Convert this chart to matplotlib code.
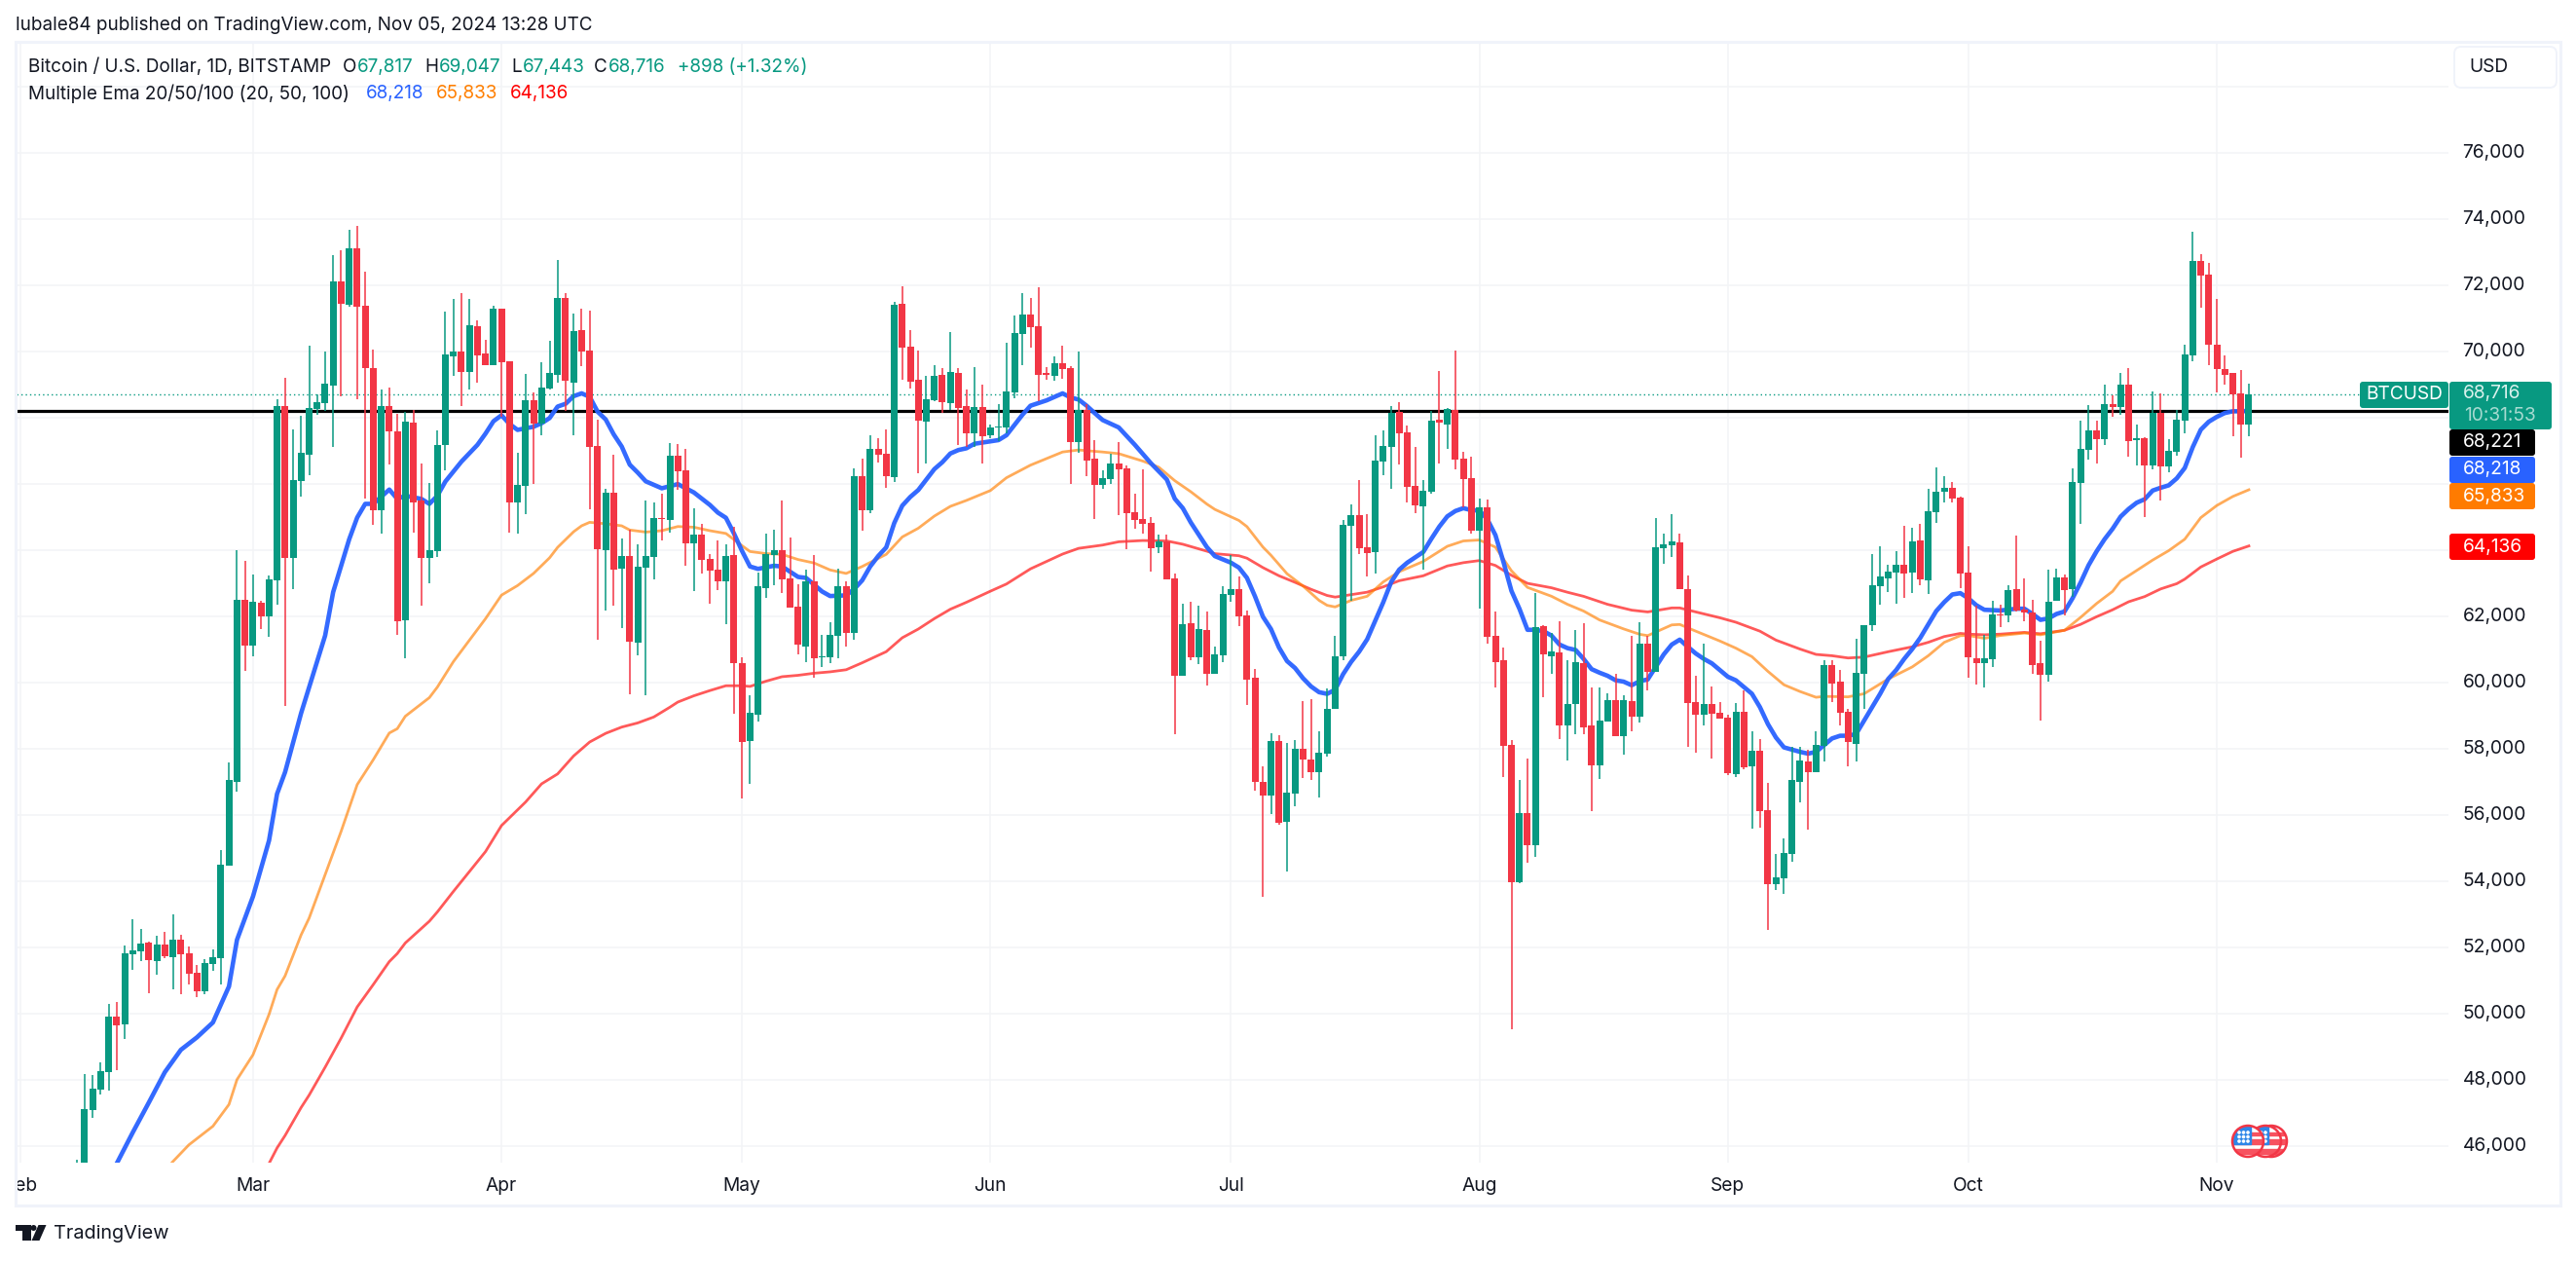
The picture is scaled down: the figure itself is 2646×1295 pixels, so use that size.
import matplotlib
matplotlib.use('Agg')
import matplotlib.pyplot as plt
from matplotlib.patches import Rectangle, Circle, Polygon, FancyBboxPatch
from matplotlib.transforms import ScaledTranslation
import numpy as np
import pandas as pd

plt.rcParams['font.family'] = ['Inter', 'DejaVu Sans']

# daily candles, Feb 8 to Nov 5 2024, one line per month
dates = pd.date_range('2024-02-08', '2024-11-05')

opens = [
    44300,45300,47098,47717,48242,49931,49687,51806,51900,52163,51600,52107,51713,52238,51844,51244,50681,51506,51694,54490,57022,62518,
    61130,62425,62012,63100,68372,63775,66102,66890,68278,68447,68991,72124,71429,73137,71392,69516,65220,68372,67602,61899,67865,65501,63775,63982,67190,69872,70022,69403,70773,69947,69610,
    71296,69711,65448,65952,68535,67821,68892,69301,71622,69070,70656,70036,67160,64010,65742,63453,63831,61217,63485,63799,64986,64923,66865,66424,64219,64482,63747,63421,63064,63862,
    60597,58245,59043,62865,63862,64010,63159,62308,61101,63064,60786,60775,61426,62917,61510,66246,65217,67065,66918,66215,71443,70152,69154,67894,68535,69301,68451,69365,68357,67537,68335,
    67469,67716,67716,68781,70539,71133,70774,69350,69276,69660,69512,67283,68249,66775,65983,66156,66627,66478,65166,64956,64832,64101,64275,63161,60214,61811,60784,61600,60276,60833,
    62665,62839,62046,60165,57008,56599,58246,55807,56661,58010,57688,57305,57862,59224,60808,64745,65067,64101,63953,66689,67134,68187,67568,65958,65339,65773,67952,67803,68236,66775,66194,
    64600,65316,61428,60672,58133,53989,56054,55110,61724,60807,60928,58700,59348,60604,58700,57512,58835,59483,58403,59456,58984,61171,60347,64073,64168,64249,62845,59429,59024,59375,59105,
    58957,57256,59132,57485,57958,56162,53908,54110,54839,57013,57634,57310,58093,60550,60024,59132,58160,60280,61751,62926,63169,63344,63574,63344,64316,63101,65167,65775,65896,65599,
    63342,60749,60602,60718,62072,62041,62839,62209,62114,60602,60255,62482,63196,62839,66041,67038,67627,67364,68425,68340,69012,67333,67396,66577,68162,66545,66986,67920,69894,72750,72330,
    70220,69485,69370,68750,67817,
]
highs = [
    45600,48186,48167,48542,50306,50362,52069,52857,52576,52182,52369,52482,53007,52388,52032,51469,51656,51957,54958,57603,64019,63682,
    63269,62481,63250,68578,69216,67659,68071,70191,68709,70022,72930,73062,73699,73812,72424,70079,68859,68934,68128,68184,68240,66627,66045,67640,71223,71598,71786,71598,70942,70360,71392,
    71296,69711,66950,69333,68766,69680,70330,72767,71769,71150,71296,71244,67947,65857,66886,64366,64629,64188,65511,65448,65710,67243,67222,67065,65269,64807,63883,64303,64188,64702,
    60775,59631,63337,64513,64618,65511,64387,62980,63421,63862,61447,61836,63442,63064,66477,66771,67474,67390,67653,71496,71979,70656,70036,69270,69595,69511,70593,69511,68860,69532,69007,
    67803,68434,70279,71096,71777,71628,71950,69549,69870,70192,69573,70019,68434,67333,66429,66924,67283,66577,65711,66454,65018,64485,64485,63309,62393,62455,62331,62158,61105,62925,
    63854,63222,62182,60424,57478,58481,58419,58196,58283,59459,59509,58543,59843,61427,64931,65401,66132,65104,67481,67630,68372,68484,67778,67135,66132,68212,69425,68311,70044,66986,66825,
    65572,65545,62170,61076,58282,57053,57729,62724,61752,61495,61873,60699,61603,61805,59848,59848,59699,60280,59618,61427,61846,61427,64991,64519,65100,64519,63250,60226,61198,59902,59429,
    59051,59402,59780,58525,58309,56986,54839,55312,58079,58053,57985,58552,60671,60671,60401,59227,61346,61751,63898,64127,63574,63992,64748,64694,64816,65869,66517,66247,66071,65640,
    64130,62345,61453,62481,62366,62954,64455,63164,62513,61263,63426,63458,63280,66482,67920,68393,67920,69012,68697,69370,69516,67805,67427,68802,68739,67364,68246,70220,73633,72950,72688,
    71596,69894,69370,69454,69047,
]
lows = [
    44300,45250,46873,47567,47679,48298,49255,51338,51600,50625,51187,51675,50756,50606,50887,50512,50587,51300,50887,54490,56722,60361,
    60811,61637,61393,62368,59311,62837,65633,66270,68090,68222,67133,68653,71373,68578,65558,64770,64507,66608,61449,60755,64545,62331,63006,63813,66421,69272,68372,68859,69066,69610,69610,
    68052,64545,64513,65101,66004,67485,68871,69070,68220,67485,69564,65249,61300,62172,62329,61657,59662,60838,59631,63127,64303,64534,65826,63526,62770,63306,62392,62791,61773,59074,
    56500,56950,58843,62571,62959,62718,62277,60859,60628,60156,60481,60597,60744,61101,61311,64597,65122,66655,65889,66067,69165,68892,66330,66623,68503,68157,68241,67180,67138,67138,66624,
    67394,67295,67543,68583,69610,70130,68496,69165,69128,69190,66008,66936,66243,64956,65847,66008,65067,64039,64658,64510,63371,63928,63136,58456,60214,60672,60573,59929,60276,60635,
    62455,61724,59335,56748,53541,56042,55720,54296,56277,57131,57070,56537,57788,59224,60697,62467,63891,63222,63309,66280,65847,66602,65451,65129,63433,65723,66627,67073,66454,65315,64510,
    62251,61185,59848,57161,49547,53962,54556,54758,59578,60280,58309,57661,58457,58457,56135,57107,58835,58403,57836,58552,58808,59780,60347,63601,63817,62845,58079,57877,58700,57728,58930,
    57202,57148,57404,55609,55636,52544,53732,53638,54583,56405,55555,57310,57634,59429,58700,57485,57634,59200,61576,62372,62750,62399,62575,62723,62953,62696,64843,65450,65450,62859,
    60161,59962,59867,60487,61694,61820,62156,61851,60277,58870,60045,62482,62051,62607,64812,66744,66629,67186,68046,68099,66839,66577,65012,66451,65516,66366,66870,67542,69716,71333,69600,
    68782,69012,67458,66807,67443,
]
closes = [
    45300,47135,47754,48280,49931,49649,51844,51919,52125,51638,52107,51731,52238,51806,51225,50681,51544,51713,54508,57078,62518,61130,
    62462,62012,63138,68372,63775,66139,66946,68315,68484,69047,72124,71448,73137,71373,69516,65220,68372,67602,61862,67903,65464,63775,64019,67190,69929,70022,69403,70810,69891,69610,71317,
    69680,65448,65983,68535,67831,68923,69365,71622,69123,70624,70005,67128,64041,65742,63421,63831,61248,63506,63831,64975,64954,66865,66393,64219,64482,63715,63390,63064,63831,60597,
    58214,59095,62917,63894,64010,63127,62277,61153,63064,60744,60807,61447,62917,61510,66246,65217,67065,66886,66246,71423,70131,69091,67915,68567,69270,68482,69385,68304,67537,68335,67453,
    67716,67754,68806,70576,71133,70749,69313,69313,69660,69487,67283,68249,66713,65983,66194,66627,66454,65129,64931,64807,64077,64262,63136,60214,61774,60784,61625,60276,60870,62690,
    62839,62009,60103,57008,56599,58246,55782,56686,58010,57688,57305,57899,59224,60808,64782,65067,64077,63928,66714,67159,68162,67543,65921,65364,65810,67927,67865,68274,66751,66156,64597,
    65316,61400,60631,58106,53989,56054,55110,61698,60847,60955,58700,59375,60631,58660,57512,58876,59483,58403,59483,58984,61171,60347,64100,64195,64276,62845,59402,59024,59375,59078,58930,
    57283,59132,57458,57958,56135,53935,54138,54866,57053,57661,57310,58134,60550,59983,59105,58201,60307,61751,62953,63223,63371,63574,63317,64276,63128,65194,65775,65896,65572,63290,
    60780,60602,60749,62072,62041,62807,62188,62114,60550,60255,62460,63196,62807,66072,67070,67627,67364,68425,68340,69012,67312,67385,66577,68162,66545,67017,67952,69926,72750,72309,70220,
    69485,69306,68719,67805,68716,
]

# moving averages, days counted from Mar 1
ema20_days = [-18,-17,-15,-13,-11,-9,-7,-5,-3,-2,0,2,3,4,6,9,10,12,13,14,15,17,18,19,21,22,23,24,26,28,29,30,
    31,32,33,35,36,37,38,39,40,41,42,43,44,45,46,47,48,49,51,53,55,57,58,59,60,
    61,62,63,65,66,67,68,69,71,72,74,75,76,77,78,79,80,81,82,83,84,85,86,87,88,89,90,
    92,93,94,95,96,97,99,101,102,103,104,105,106,108,110,112,114,115,116,117,118,119,120,
    122,123,124,125,126,127,128,129,130,131,132,133,134,135,136,137,138,139,140,141,142,143,144,146,147,148,149,150,151,152,
    153,154,155,156,157,158,159,160,161,162,163,164,165,166,167,168,169,170,171,172,173,174,175,176,177,178,179,180,181,182,183,
    184,185,186,187,188,189,190,191,192,193,194,195,196,197,198,199,200,201,202,203,204,205,206,207,208,209,210,211,212,213,
    214,215,216,218,220,221,222,223,224,225,226,227,228,229,230,231,232,233,234,235,236,237,238,239,240,241,242,243,244,245,246,247,248,249]
ema20 = [44900,45484,46422,47323,48242,48917,49293,49743,50831,52238,53551,55240,56647,57303,59085,61430,62743,64338,64995,65407,65407,65839,65558,65651,65558,65407,65651,66083,66683,67190,67527,67903,
    68083,67821,67642,67737,67842,67999,68346,68430,68661,68745,68640,68188,67957,67506,67139,66592,66351,66088,65878,66004,65752,65375,65143,64986,64514,
    63989,63516,63443,63537,63516,63359,63201,63170,62760,62623,62644,62833,63096,63516,63831,64093,64828,65353,65616,65826,66141,66456,66666,66928,67033,67086,67222,
    67295,67333,67481,67791,68100,68372,68533,68744,68620,68558,68372,68150,67939,67716,67196,66639,66144,65562,65277,64844,64473,64101,63829,
    63631,63482,63173,62616,61997,61625,61068,60660,60449,60140,59892,59719,59669,59793,60264,60635,60944,61316,61873,62430,63049,63421,63631,63953,64349,64720,65030,65191,65277,65216,
    65208,64937,64465,63655,62778,62237,61603,61603,61563,61428,61157,61049,60995,60725,60415,60307,60213,60078,60037,59929,60050,60104,60482,60860,61157,61306,61090,60887,60725,60590,60388,
    60185,60077,59875,59672,59267,58754,58349,58052,57985,57917,57863,57917,58120,58322,58403,58403,58457,58862,59267,59672,60118,60388,60725,61022,61360,61765,62170,62440,62670,62710,
    62555,62345,62208,62187,62240,62240,62082,61904,61946,62082,62156,62555,63027,63552,63972,64340,64655,65022,65253,65442,65547,65810,65894,65967,66177,66492,67122,67647,67889,68036,68151,68204,68204,68218]

ema50_days = [-12,-10,-8,-5,-3,-2,0,2,3,4,6,7,9,11,13,15,17,18,19,22,23,25,29,31,
    33,35,37,38,40,41,42,44,46,47,49,51,53,55,57,59,61,62,64,66,68,70,72,74,76,79,81,83,85,87,89,
    92,94,97,101,103,106,108,111,113,115,117,119,120,123,124,126,127,129,131,133,134,135,137,139,141,143,146,149,151,
    153,155,157,159,162,164,166,168,171,173,174,177,178,180,183,185,187,189,191,193,195,196,199,201,204,207,209,211,213,
    214,216,218,221,223,226,228,230,232,233,235,237,239,241,243,245,247,249]
ema50 = [44950,45541,46047,46610,47266,48017,48767,49987,50737,51150,52388,52895,54208,55521,56928,57678,58485,58616,58992,59554,59873,60642,61937,62650,
    62939,63306,63778,64093,64566,64745,64850,64807,64744,64618,64555,64597,64723,64702,64597,64513,64146,63968,63905,63883,63726,63621,63411,63306,63516,63883,64408,64671,65038,65332,65511,
    65810,66196,66577,66974,67035,66974,66924,66701,66515,66107,65773,65401,65240,64906,64720,64101,63854,63297,62925,62492,62343,62294,62492,62616,63049,63359,63668,64126,64287,
    64316,64101,63385,62885,62616,62372,62170,61900,61630,61468,61427,61751,61765,61562,61265,61049,60793,60347,59942,59740,59565,59592,59578,59672,60118,60482,60820,61225,61427,
    61431,61347,61431,61505,61452,61589,61977,62397,62765,63080,63395,63710,63994,64340,64991,65358,65631,65833]

ema100_days = [1,2,3,4,6,7,9,11,13,15,17,18,19,22,23,25,29,31,34,36,
    38,40,42,44,46,48,50,52,53,55,57,59,61,62,64,66,68,70,72,74,76,79,81,83,85,87,89,
    92,94,97,101,103,106,108,111,114,116,119,120,123,124,126,128,130,132,134,135,137,139,141,143,146,149,151,
    153,155,157,159,162,164,166,169,172,174,177,178,180,183,185,188,190,193,195,197,199,201,204,207,209,211,213,
    214,216,218,221,223,226,228,230,232,234,236,238,240,241,243,245,247,249]
ema100 = [44900,45484,45953,46328,47173,47548,48392,49274,50212,50887,51581,51825,52144,52801,53082,53701,54902,55690,56400,56950,
    57250,57793,58214,58476,58665,58791,58970,59264,59421,59610,59768,59914,59914,59893,60051,60187,60229,60292,60334,60397,60607,60943,61363,61626,61941,62225,62434,
    62770,62987,63445,63891,64064,64163,64262,64300,64287,64188,63978,63903,63841,63767,63482,63235,63037,62826,62640,62591,62665,62740,62900,63086,63235,63532,63631,
    63695,63547,63250,63007,62872,62737,62615,62372,62197,62143,62264,62264,62143,61967,61832,61562,61292,61022,60860,60820,60752,60779,60941,61090,61225,61400,61495,
    61473,61453,61473,61526,61484,61589,61767,61998,62208,62450,62607,62838,62996,63133,63500,63741,63972,64136]

hline_level = 68221
last_close = 68716
price_ticks = list(range(46000, 80000, 2000))
hidden_ticks = [64000, 66000, 68000, 78000]  # sit behind the tags and the USD button
month_starts = pd.date_range('2024-02-01', '2024-11-01', freq='MS')
month_labels = ['Feb', 'Mar', 'Apr', 'May', 'Jun', 'Jul', 'Aug', 'Sep', 'Oct', 'Nov']

GREEN = '#089981'
RED = '#F23645'
GRID = '#F3F4F6'
INK = '#131722'

W, H = 2646, 1295
fig = plt.figure(figsize=(W / 100, H / 100), dpi=100, facecolor='white')

# main price pane
ax = fig.add_axes([17 / W, 1 - 1194 / H, (2515 - 17) / W, (1194 - 44) / H])
mar1 = pd.Timestamp('2024-03-01')
ax.set_xlim(mar1 + pd.Timedelta(days=-29.5), mar1 + pd.Timedelta(days=273.9))
ax.set_ylim(45509, 79332)
for s in ax.spines.values():
    s.set_visible(False)

ax.yaxis.tick_right()
ax.set_yticks(price_ticks)
ax.set_yticklabels(['' if p in hidden_ticks else '{:,}'.format(p) for p in price_ticks])
ax.set_xticks(month_starts)
ax.set_xticklabels(month_labels)
ax.tick_params(axis='both', length=0, labelsize=13.8, labelcolor=INK)
ax.tick_params(axis='y', pad=10.5)
ax.tick_params(axis='x', pad=11)
ax.grid(True, color=GRID, lw=1.1, zorder=0)
ax.set_axisbelow(True)
nudge = ScaledTranslation(0, 1.4 / 72, fig.dpi_scale_trans)
for lab in ax.get_yticklabels():
    lab.set_transform(lab.get_transform() + nudge)

ax.axhline(last_close, color=GREEN, lw=1.0, ls=(0, (1, 2.2)), zorder=1)
ax.axhline(hline_level, color='black', lw=2.3, zorder=2)


def day_axis(days):
    return mar1 + pd.to_timedelta(days, unit='D')


ax.plot(day_axis(ema100_days), ema100, color='#FF0000', alpha=0.65, lw=2.0, zorder=3, solid_joinstyle='round')
ax.plot(day_axis(ema50_days), ema50, color='#FF7F00', alpha=0.65, lw=2.0, zorder=3, solid_joinstyle='round')
ax.plot(day_axis(ema20_days), ema20, color='#2962FF', alpha=0.95, lw=3.3, zorder=3, solid_joinstyle='round')

o, h, l, c = map(np.array, (opens, highs, lows, closes))
up = c >= o
colors = np.where(up, GREEN, RED)
ax.vlines(dates, l, h, colors=colors, lw=1.1, zorder=4)
ax.bar(dates, np.maximum(np.abs(c - o), 30), bottom=np.minimum(o, c), width=0.85, color=colors, linewidth=0, zorder=5)

# everything in screen pixels goes on a second axes on top
ov = fig.add_axes([0, 0, 1, 1])
ov.set_xlim(0, W)
ov.set_ylim(H, 0)
ov.axis('off')

ov.add_patch(Rectangle((0, 1196), 15, 40, color='white', zorder=1))
ov.add_patch(Rectangle((16, 43), 2614, 1195, fill=False, edgecolor='#F0F3FA', lw=2.2, zorder=2))

ov.text(16, 26, 'lubale84 published on TradingView.com, Nov 05, 2024 13:28 UTC', fontsize=13.6, color=INK, va='center')

# legend rows
ov.text(29, 69, 'Bitcoin / U.S. Dollar, 1D, BITSTAMP', fontsize=13.6, color=INK, va='center')
for x, t, col in [(352, 'O', INK), (367, '67,817', GREEN), (436, 'H', INK), (451, '69,047', GREEN),
                  (525, 'L', INK), (537, '67,443', GREEN), (610, 'C', INK), (625, '68,716', GREEN),
                  (696, '+898 (+1.32%)', GREEN)]:
    ov.text(x, 69, t, fontsize=13.6, color=col, va='center')
ov.text(29, 96, 'Multiple Ema 20/50/100 (20, 50, 100)', fontsize=13.6, color=INK, va='center')
for x, t, col in [(376, '68,218', '#2962FF'), (448, '65,833', '#FF7F00'), (524, '64,136', '#FF0000')]:
    ov.text(x, 96, t, fontsize=13.6, color=col, va='center')


def tag(x0, x1, y0, y1, col):
    ov.add_patch(FancyBboxPatch((x0 + 2, y0 + 2), x1 - x0 - 4, y1 - y0 - 4, boxstyle='round,pad=2,rounding_size=3',
                                facecolor=col, edgecolor='none', zorder=3))


# price tags on the scale
tag(2424, 2515, 392, 419, GREEN)
ov.text(2469.5, 405.5, 'BTCUSD', fontsize=13.8, color='white', ha='center', va='center', zorder=4)
tag(2516, 2621, 392, 441, GREEN)
ov.text(2530, 404, '68,716', fontsize=13.8, color='#D9F1EC', va='center', zorder=4)
ov.text(2531, 427, '10:31:53', fontsize=13.8, color='#A6DAD0', va='center', zorder=4)
for y0, y1, col, t in [(441, 468, 'black', '68,221'), (469, 496, '#2962FF', '68,218'),
                       (496, 523, '#FF7B00', '65,833'), (548, 575, '#FF0000', '64,136')]:
    tag(2516, 2604, y0, y1, col)
    ov.text(2530, (y0 + y1) / 2, t, fontsize=13.8, color='white', va='center', zorder=4)

# currency button
ov.add_patch(FancyBboxPatch((2527, 54), 93, 30, boxstyle='round,pad=6,rounding_size=7',
                            facecolor='white', edgecolor='#F0F3FA', lw=1.4, zorder=3))
ov.text(2536, 69, 'USD', fontsize=13.8, color=INK, va='center', zorder=4)


def flag(cx, cy):
    base = Circle((cx, cy), 15.5, facecolor='white', edgecolor='none', zorder=5)
    ov.add_patch(base)
    parts = [Rectangle((cx - 16, cy + dy), 32, hh, color='#F7525F', zorder=5) for dy, hh in [(-9, 3), (-2, 5), (8, 5)]]
    parts.append(Rectangle((cx - 16, cy - 16), 19, 19, color='#2E86E8', zorder=5))
    for p in parts:
        ov.add_patch(p)
        p.set_clip_path(base)
    for i in range(3):
        for j in range(3):
            star = Circle((cx - 9 + 4.5 * i, cy - 9 + 4.5 * j), 1.1, color='white', zorder=5)
            ov.add_patch(star)
    ov.add_patch(Circle((cx, cy), 16, fill=False, edgecolor=RED, lw=1.8, zorder=5))


flag(2333, 1172)
flag(2327, 1172)
flag(2309, 1172)

# footer logo
ov.add_patch(Polygon([(16, 1258), (32, 1258), (32, 1274), (23, 1274), (23, 1264), (16, 1264)], color=INK, lw=0))
ov.add_patch(Circle((34.5, 1261), 3, color=INK, lw=0))
ov.add_patch(Polygon([(39.5, 1258), (47.5, 1258), (40.5, 1274), (32.5, 1274)], color=INK, lw=0))
ov.text(55, 1267.5, 'TradingView', fontsize=14.3, color=INK, va='center')

fig.savefig('out.png', dpi=100, facecolor='white')
